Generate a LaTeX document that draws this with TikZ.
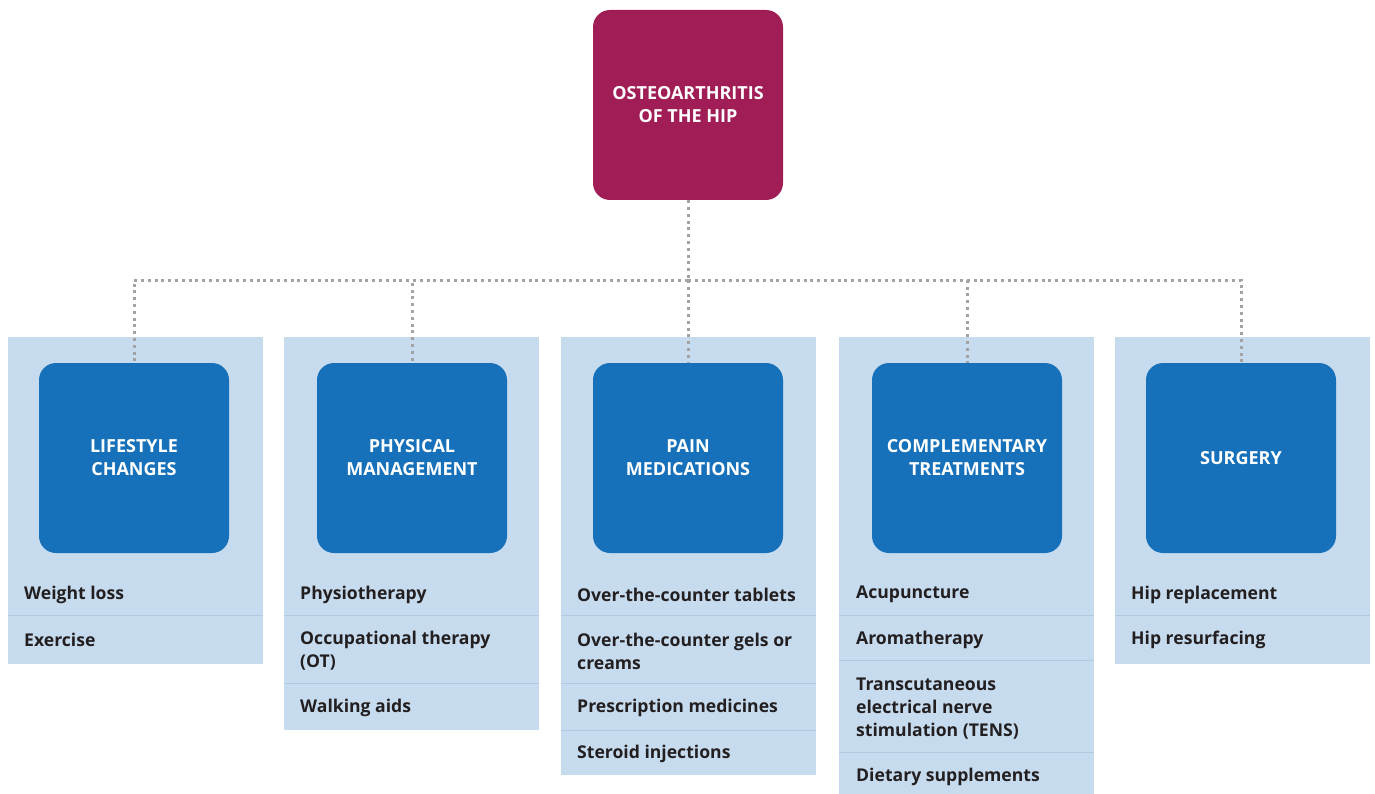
\documentclass[tikz,border=0pt]{standalone}
\usepackage{fontspec}
\setmainfont{Open Sans}
\usetikzlibrary{positioning}
\definecolor{rootc}{HTML}{A01D55}
\definecolor{headc}{HTML}{1771BA}
\definecolor{panelc}{HTML}{C6DBEE}
\definecolor{sepc}{HTML}{AFC9E2}
\definecolor{dotc}{HTML}{A3A3A3}
\definecolor{itemc}{HTML}{231F20}
\begin{document}
\begin{tikzpicture}[x=1pt,y=-1pt,
  panel/.style={fill=panelc,draw=none,inner sep=0pt,minimum width=255pt,anchor=north west},
  headbox/.style={fill=headc,draw=none,rounded corners=17pt,minimum width=190pt,minimum height=190pt,
     text=white,font=\fontsize{18}{23}\selectfont\bfseries,align=center,inner sep=0pt},
  rootbox/.style={headbox,fill=rootc},
  item/.style={anchor=west,text=itemc,font=\fontsize{17.6}{23}\selectfont\bfseries,align=left,inner sep=0pt},
  sep/.style={draw=sepc,line width=0.8pt},
  dotline/.style={draw=dotc,line width=3pt,dash pattern=on 3pt off 3.8pt}]
\useasboundingbox (0,0) rectangle (1375,794);
% panels
\node[panel,minimum height=327pt] (p1) at (8,337) {};
\node[panel,minimum height=393pt] (p2) at (284,337) {};
\node[panel,minimum height=438pt] (p3) at (561,337) {};
\node[panel,minimum height=460pt] (p4) at (839,337) {};
\node[panel,minimum height=327pt] (p5) at (1115,337) {};
% separators
\draw[sep] (8,615) -- (263,615);
\draw[sep] (284,615) -- (539,615);
\draw[sep] (284,683) -- (539,683);
\draw[sep] (561,615) -- (816,615);
\draw[sep] (561,683) -- (816,683);
\draw[sep] (561,730) -- (816,730);
\draw[sep] (839,615) -- (1094,615);
\draw[sep] (839,660) -- (1094,660);
\draw[sep] (839,752) -- (1094,752);
\draw[sep] (1115,615) -- (1370,615);
% boxes
\node[rootbox] (root) at (688,105) {OSTEOARTHRITIS\\OF THE HIP};
\node[headbox] (c1) at (134,458) {LIFESTYLE\\CHANGES};
\node[headbox] (c2) at (412,458) {PHYSICAL\\MANAGEMENT};
\node[headbox] (c3) at (688,458) {PAIN\\MEDICATIONS};
\node[headbox] (c4) at (967,458) {COMPLEMENTARY\\TREATMENTS};
\node[headbox] (c5) at (1241,458) {SURGERY};
% connectors
\coordinate (j) at (688,280);
\draw[dotline] (root.south) -- (j);
\draw[dotline] (j) -| (c1.north);
\draw[dotline] (j) -| (c2.north);
\draw[dotline] (j) -- (c3.north);
\draw[dotline] (j) -| (c4.north);
\draw[dotline] (j) -| (c5.north);
% items
\node[item] (i11) at (24,594.5) {Weight loss};
\node[item] (i12) at (24,639.5) {Exercise};
\node[item] (i21) at (300,594.5) {Physiotherapy};
\node[item] (i22) at (300,651) {Occupational therapy\\(OT)};
\node[item] (i23) at (300,707.5) {Walking aids};
\node[item] (i31) at (577,594.5) {Over-the-counter tablets};
\node[item] (i32) at (577,651) {Over-the-counter gels or\\creams};
\node[item] (i33) at (577,707.5) {Prescription medicines};
\node[item] (i34) at (577,753.5) {Steroid injections};
\node[item] (i41) at (856,594.5) {Acupuncture};
\node[item] (i42) at (856,639.5) {Aromatherapy};
\node[item] (i43) at (856,708.5) {Transcutaneous\\electrical nerve\\stimulation (TENS)};
\node[item] (i44) at (856,776.5) {Dietary supplements};
\node[item] (i51) at (1131,594.5) {Hip replacement};
\node[item] (i52) at (1131,639.5) {Hip resurfacing};
\end{tikzpicture}
\end{document}
